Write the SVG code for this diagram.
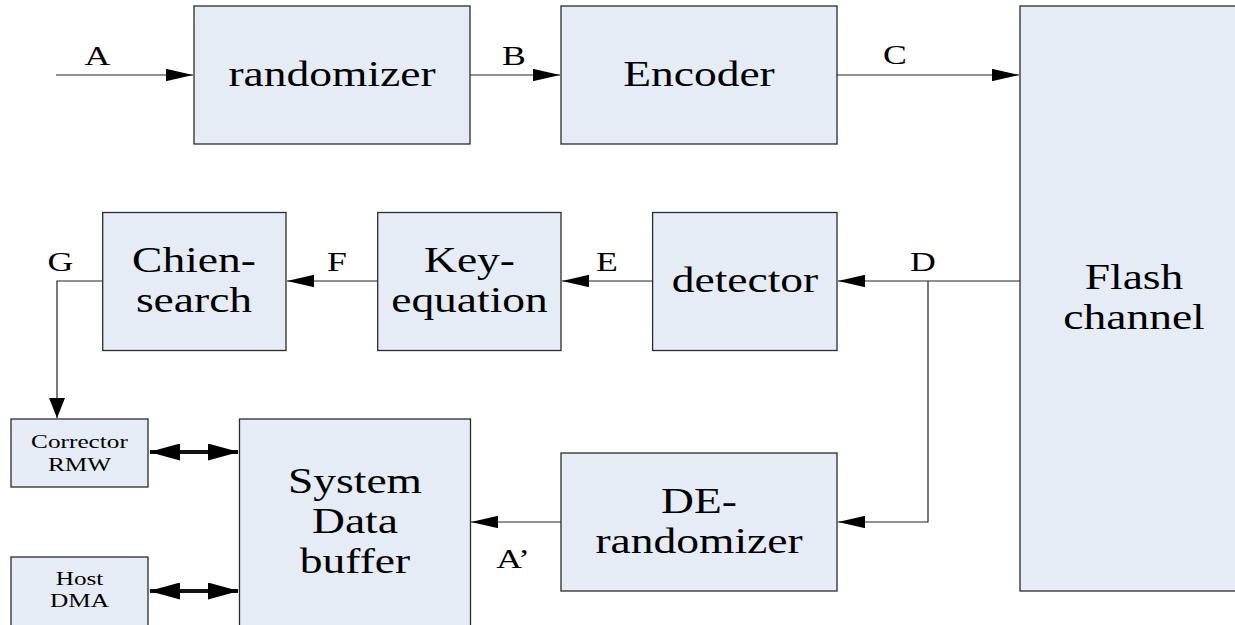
<svg xmlns="http://www.w3.org/2000/svg" width="1235" height="625" viewBox="0 0 1235 625">
  <style>
    .box { fill: #E6ECF6; stroke: #2b2b2b; stroke-width: 1.3; }
    .lbl { font-family: "Liberation Serif", "Times New Roman", serif; font-size: 35px; fill: #000; text-anchor: middle; }
    .sml { font-family: "Liberation Serif", "Times New Roman", serif; font-size: 19px; fill: #000; text-anchor: middle; }
    .sig { font-family: "Liberation Serif", "Times New Roman", serif; font-size: 27.5px; fill: #000; text-anchor: middle; }
    .wire { fill: none; stroke: #222; stroke-width: 1.2; }
    .bus { fill: none; stroke: #111; stroke-width: 4; }
  </style>
  <defs>
    <marker id="headH" markerUnits="userSpaceOnUse" viewBox="0 0 27 12.4" markerWidth="27" markerHeight="12.4" refX="27" refY="6.2" orient="auto">
      <path d="M0,0 L27,6.2 L0,12.4 z" fill="#000"/>
    </marker>
    <marker id="headV" markerUnits="userSpaceOnUse" viewBox="0 0 20 16" markerWidth="20" markerHeight="16" refX="20" refY="8" orient="auto">
      <path d="M0,0 L20,8 L0,16 z" fill="#000"/>
    </marker>
    <marker id="headBus" markerUnits="userSpaceOnUse" viewBox="0 0 31 17" markerWidth="31" markerHeight="17" refX="30" refY="8.5" orient="auto-start-reverse">
      <path d="M0,0 L31,8.5 L0,17 z" fill="#000"/>
    </marker>
  </defs>

  <!-- signal paths -->
  <g id="connectors">
    <path class="wire" d="M56,75 H193" marker-end="url(#headH)"/>
    <path class="wire" d="M470,75 H560" marker-end="url(#headH)"/>
    <path class="wire" d="M837,75 H1019" marker-end="url(#headH)"/>
    <path class="wire" d="M1020,281 H838" marker-end="url(#headH)"/>
    <path class="wire" d="M652.6,281 H562" marker-end="url(#headH)"/>
    <path class="wire" d="M377.7,281 H287" marker-end="url(#headH)"/>
    <path class="wire" d="M102.7,281 H57 V418" marker-end="url(#headV)"/>
    <path class="wire" d="M928,281 V522 H838" marker-end="url(#headH)"/>
    <path class="wire" d="M561,522 H471" marker-end="url(#headH)"/>
    <path class="bus" d="M150,452 H238" marker-start="url(#headBus)" marker-end="url(#headBus)"/>
    <path class="bus" d="M150,591 H238" marker-start="url(#headBus)" marker-end="url(#headBus)"/>

    <text class="sig" transform="translate(97.5,65) scale(1.3,1)">A</text>
    <text class="sig" transform="translate(514,65) scale(1.3,1)">B</text>
    <text class="sig" transform="translate(895,64) scale(1.3,1)">C</text>
    <text class="sig" transform="translate(923,271) scale(1.3,1)">D</text>
    <text class="sig" transform="translate(607,271) scale(1.3,1)">E</text>
    <text class="sig" transform="translate(337,271) scale(1.3,1)">F</text>
    <text class="sig" transform="translate(60.5,271) scale(1.3,1)">G</text>
    <text class="sig" transform="translate(513,568) scale(1.3,1)">A’</text>
  </g>

  <g id="randomizer">
    <rect class="box" x="194" y="6" width="276" height="138"/>
    <text class="lbl" transform="translate(332,86) scale(1.3,1)">randomizer</text>
  </g>

  <g id="encoder">
    <rect class="box" x="561" y="6" width="276" height="138"/>
    <text class="lbl" transform="translate(699,86) scale(1.3,1)">Encoder</text>
  </g>

  <g id="flash-channel">
    <rect class="box" x="1020" y="6" width="228" height="585"/>
    <text class="lbl" transform="translate(1134,289) scale(1.3,1)">Flash</text>
    <text class="lbl" transform="translate(1134,329) scale(1.3,1)">channel</text>
  </g>

  <g id="detector">
    <rect class="box" x="652.6" y="212.5" width="184.4" height="138"/>
    <text class="lbl" transform="translate(745,292) scale(1.3,1)">detector</text>
  </g>

  <g id="key-equation">
    <rect class="box" x="377.7" y="212.5" width="183.3" height="138"/>
    <text class="lbl" transform="translate(469.5,272) scale(1.3,1)">Key-</text>
    <text class="lbl" transform="translate(469.5,312) scale(1.3,1)">equation</text>
  </g>

  <g id="chien-search">
    <rect class="box" x="102.7" y="212.5" width="183.3" height="138"/>
    <text class="lbl" transform="translate(194,272) scale(1.3,1)">Chien-</text>
    <text class="lbl" transform="translate(194,312) scale(1.3,1)">search</text>
  </g>

  <g id="de-randomizer">
    <rect class="box" x="561" y="453" width="276" height="138"/>
    <text class="lbl" transform="translate(699,513) scale(1.3,1)">DE-</text>
    <text class="lbl" transform="translate(699,553) scale(1.3,1)">randomizer</text>
  </g>

  <g id="system-data-buffer">
    <rect class="box" x="239.5" y="419" width="231" height="230"/>
    <text class="lbl" transform="translate(355,493) scale(1.3,1)">System</text>
    <text class="lbl" transform="translate(355,533) scale(1.3,1)">Data</text>
    <text class="lbl" transform="translate(355,573) scale(1.3,1)">buffer</text>
  </g>

  <g id="corrector-rmw">
    <rect class="box" x="11" y="419" width="137" height="68"/>
    <text class="sml" transform="translate(79.5,448) scale(1.33,1)">Corrector</text>
    <text class="sml" transform="translate(79.5,471) scale(1.33,1)">RMW</text>
  </g>

  <g id="host-dma">
    <rect class="box" x="11" y="557" width="137" height="90"/>
    <text class="sml" transform="translate(79.5,585) scale(1.33,1)">Host</text>
    <text class="sml" transform="translate(79.5,607) scale(1.33,1)">DMA</text>
  </g>
</svg>
